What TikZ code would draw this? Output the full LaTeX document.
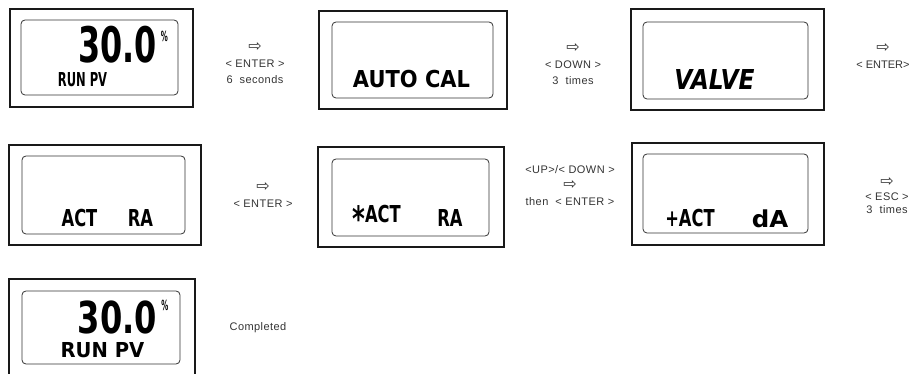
\documentclass[tikz,border=0pt]{standalone}
\usepackage{fontspec}
\usepackage{graphicx}
\setmainfont{Liberation Sans}
\newfontfamily\lcdfont{DejaVu Sans}
\newfontfamily\arrowfont{DejaVu Sans}
\newfontfamily\keyfont{Liberation Sans}[LetterSpace=4]
% display lettering: size, horizontal squeeze, text
\newcommand{\lcdtext}[3]{{\lcdfont\bfseries\fontsize{#1}{#1}\selectfont\scalebox{#2}[1]{#3}}}
\newcommand{\nextarrow}{{\arrowfont\fontsize{16}{13}\selectfont ⇨}}

\tikzset{
  panel/.style={draw=black!90, line width=2.4pt, inner sep=0pt},
  thinpanel/.style={panel, line width=1.1pt},
  window/.style={draw=black!80, line width=0.8pt, rounded corners=4pt, inner sep=0pt},
  lcd/.style={inner sep=0pt, text=black},
  keylabel/.style={align=center, inner sep=0pt, text=black!80,
    font=\keyfont\fontsize{11}{16}\selectfont},
}

\begin{document}
\begin{tikzpicture}[x=1pt,y=-1pt]
\useasboundingbox (0,0) rectangle (911,374);

% first row
\node[thinpanel, minimum width=183pt, minimum height=98pt] (run1) at (101.5,58) {};
\node[window, minimum width=157pt, minimum height=75pt] (run1in) at (99.5,57.5) {};
\node[lcd] (run1val) at (117.5,45) {\lcdtext{49}{0.65}{30.0}};
\node[lcd] (run1pct) at (164.5,36) {\lcdtext{14}{0.5}{\%}};
\node[lcd] (run1txt) at (82.5,80) {\lcdtext{19.2}{0.6}{RUN PV}};

\node[keylabel] (key1) at (255,63) {\nextarrow\\< ENTER >\\6\ \ seconds};

\node[thinpanel, minimum width=188pt, minimum height=98pt] (autocal) at (413,60) {};
\node[window, minimum width=161pt, minimum height=76pt] (autocalin) at (412.5,60) {};
\node[lcd] (autocaltxt) at (411.5,79.5) {\lcdtext{23.3}{0.9}{AUTO CAL}};

\node[keylabel] (key2) at (573,64) {\nextarrow\\< DOWN >\\3\ \ times};

\node[panel, minimum width=193pt, minimum height=101pt] (valve) at (727.5,59.5) {};
\node[window, minimum width=165pt, minimum height=77pt] (valvein) at (725.5,60.5) {};
\node[lcd] (valvetxt) at (714.5,80) {\lcdtext{27.4}{0.85}{\itshape VALVE}};

\node[keylabel, font=\rmfamily\fontsize{11}{16}\selectfont] (key3) at (883,56) {\nextarrow\\< ENTER>};

% second row
\node[panel, minimum width=192pt, minimum height=100pt] (act) at (105,195) {};
\node[window, minimum width=163pt, minimum height=78pt] (actin) at (103.5,195) {};
\node[lcd] (acttxt) at (79.5,218.5) {\lcdtext{23.3}{0.7}{ACT}};
\node[lcd] (actval) at (140.5,218.5) {\lcdtext{23.3}{0.7}{RA}};

\node[keylabel] (key4) at (263,195) {\nextarrow\\< ENTER >};

\node[panel, minimum width=186pt, minimum height=100pt] (actsel) at (411,197) {};
\node[window, minimum width=157pt, minimum height=77pt] (actselin) at (410.5,197.5) {};
\node[lcd] (actseltxt) at (376.5,218.5) {\lcdtext{23.3}{0.7}{\raisebox{-0.4em}{\scalebox{1.5}{*}}ACT}};
\node[lcd] (actselval) at (450,218.5) {\lcdtext{23.3}{0.7}{RA}};

\node[keylabel] (key5) at (570,186) {<UP>/< DOWN >\\\nextarrow\\then\ \ < ENTER >};

\node[panel, minimum width=192pt, minimum height=102pt] (actnew) at (728,194) {};
\node[window, minimum width=165pt, minimum height=79pt] (actnewin) at (725.5,193.5) {};
\node[lcd] (actnewtxt) at (690,218.5) {\lcdtext{23.3}{0.7}{+ACT}};
\node[lcd] (actnewval) at (770,218.5) {\lcdtext{23.3}{1.05}{dA}};

\node[keylabel, font=\keyfont\fontsize{11}{13.5}\selectfont] (key6) at (887,196) {\nextarrow\\< ESC >\\3\ \ times};

% third row
\node[panel, minimum width=186pt, minimum height=102pt] (run2) at (102,330) {};
\node[window, minimum width=158pt, minimum height=73pt] (run2in) at (101,327.5) {};
\node[lcd] (run2val) at (117.5,317) {\lcdtext{44}{0.73}{30.0}};
\node[lcd] (run2pct) at (165,305) {\lcdtext{14}{0.5}{\%}};
\node[lcd] (run2txt) at (102.5,350.5) {\lcdtext{20.6}{0.95}{RUN PV}};

\node[keylabel] (done) at (258,328) {Completed};
\end{tikzpicture}
\end{document}
